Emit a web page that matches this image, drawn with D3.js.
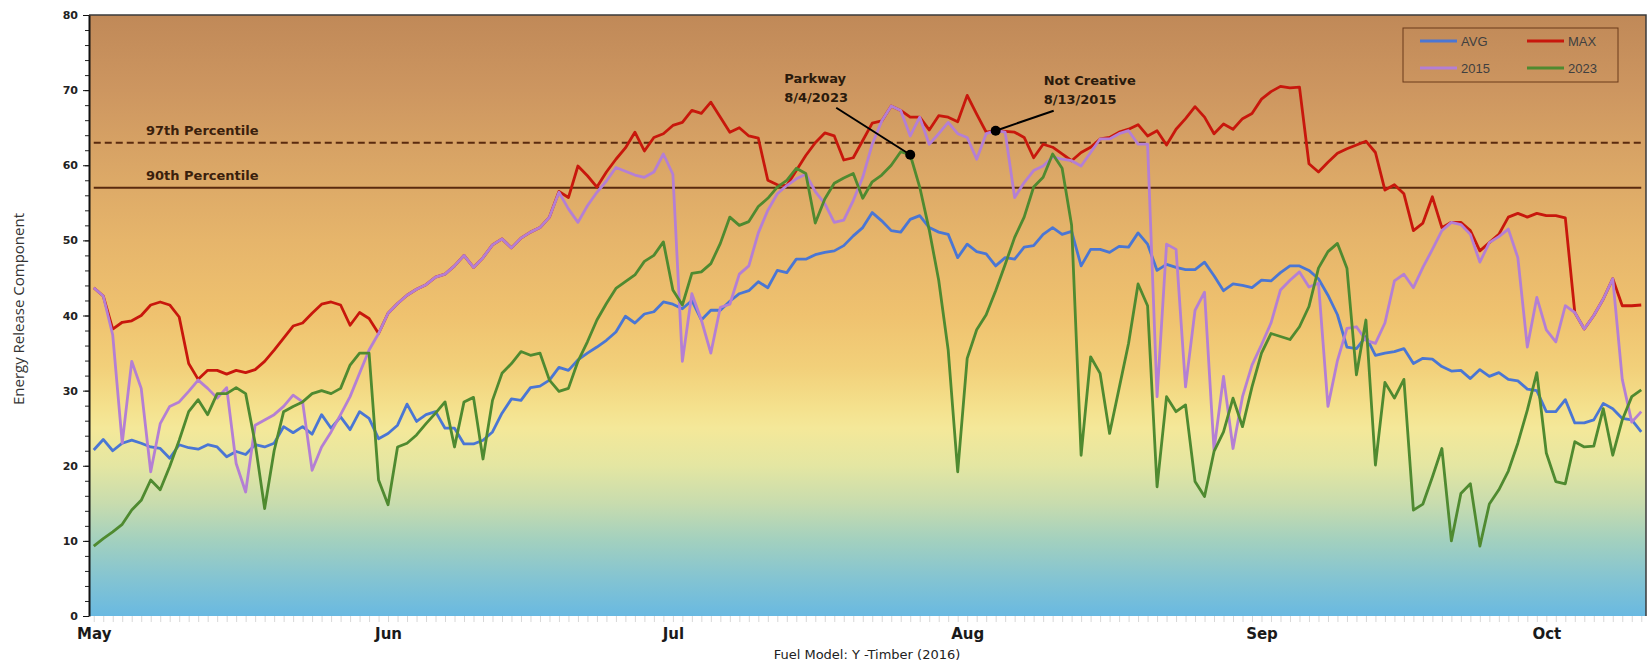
<!DOCTYPE html>
<html>
<head>
<meta charset="utf-8">
<script src="https://cdn.jsdelivr.net/npm/d3@7"></script>
<style>
body { margin: 0; background: #fff; }
</style>
</head>
<body>
<div id="chart"></div>
<script>
// daily values, May 1 .. Oct 11
var firstDay = new Date(2023, 4, 1);

var avg = [22.1, 23.5, 22.0, 23.0, 23.4, 23.0, 22.5, 22.3, 21.0, 22.8,
    22.4, 22.2, 22.8, 22.5, 21.2, 21.9, 21.5, 22.8, 22.5, 23.0,
    25.2, 24.4, 25.2, 24.2, 26.8, 25.0, 26.5, 24.8, 27.2, 26.3,
    23.6, 24.3, 25.4, 28.2, 25.9, 26.8, 27.2, 25.0, 25.0, 22.9,
    22.9, 23.4, 24.5, 27.0, 28.9, 28.7, 30.4, 30.6, 31.4, 33.1,
    32.7, 34.1, 35.0, 35.8, 36.7, 37.8, 39.9, 39.0, 40.2, 40.5,
    41.8, 41.5, 40.9, 42.0, 39.4, 40.7, 40.7, 41.9, 42.9, 43.3,
    44.5, 43.7, 46.0, 45.7, 47.5, 47.5, 48.1, 48.4, 48.6, 49.3,
    50.6, 51.7, 53.7, 52.6, 51.3, 51.1, 52.8, 53.3, 51.7, 51.1,
    50.8, 47.7, 49.5, 48.5, 48.2, 46.6, 47.7, 47.5, 49.1, 49.3,
    50.8, 51.7, 50.8, 51.2, 46.6, 48.8, 48.8, 48.4, 49.2, 49.1,
    51.0, 49.5, 46.0, 46.8, 46.4, 46.1, 46.1, 47.1, 45.3, 43.3,
    44.2, 44.0, 43.7, 44.7, 44.6, 45.7, 46.6, 46.6, 46.0, 44.9,
    42.7, 40.1, 35.8, 35.6, 37.2, 34.7, 35.0, 35.2, 35.6, 33.6,
    34.3, 34.2, 33.2, 32.6, 32.7, 31.6, 32.8, 31.9, 32.4, 31.5,
    31.3, 30.2, 30.0, 27.2, 27.2, 28.8, 25.7, 25.7, 26.1, 28.3,
    27.6, 26.3, 26.1, 24.5];

var max = [43.7, 42.6, 38.2, 39.1, 39.3, 40.0, 41.4, 41.8, 41.4, 39.8,
    33.6, 31.5, 32.7, 32.7, 32.2, 32.7, 32.4, 32.8, 33.9, 35.4,
    37.0, 38.6, 39.0, 40.3, 41.5, 41.8, 41.4, 38.7, 40.4, 39.6,
    37.6, 40.3, 41.6, 42.7, 43.5, 44.1, 45.1, 45.5, 46.6, 48.0,
    46.4, 47.7, 49.4, 50.2, 49.0, 50.3, 51.1, 51.7, 53.1, 56.5,
    55.7, 59.9, 58.6, 57.1, 59.1, 60.8, 62.3, 64.4, 61.9, 63.7,
    64.2, 65.3, 65.7, 67.3, 66.9, 68.4, 66.4, 64.4, 65.0, 63.9,
    63.6, 58.0, 57.4, 57.3, 59.3, 61.3, 63.0, 64.3, 63.9, 60.7,
    61.0, 63.3, 65.6, 65.9, 67.9, 67.3, 66.4, 66.4, 64.7, 66.6,
    66.4, 65.8, 69.3, 66.8, 64.4, 64.6, 64.5, 64.4, 63.7, 61.0,
    62.8, 62.4, 61.5, 60.6, 61.7, 62.4, 63.5, 63.7, 64.4, 64.8,
    65.4, 63.9, 64.6, 62.7, 64.8, 66.2, 67.8, 66.4, 64.2, 65.5,
    64.8, 66.2, 66.9, 68.8, 69.8, 70.5, 70.3, 70.4, 60.2, 59.1,
    60.4, 61.6, 62.2, 62.7, 63.2, 61.7, 56.7, 57.4, 56.2, 51.3,
    52.3, 55.8, 51.7, 52.4, 52.4, 51.3, 48.6, 49.7, 50.8, 53.1,
    53.6, 53.1, 53.6, 53.3, 53.3, 53.0, 40.4, 38.2, 40.0, 42.2,
    44.9, 41.3, 41.3, 41.4];

var y2015 = [43.7, 42.6, 37.4, 23.0, 33.9, 30.3, 19.2, 25.6, 27.9, 28.5,
    29.9, 31.4, 30.3, 29.0, 30.4, 20.3, 16.5, 25.4, 26.1, 26.8,
    27.9, 29.4, 28.5, 19.4, 22.5, 24.5, 26.8, 29.2, 32.3, 35.4,
    37.6, 40.3, 41.6, 42.7, 43.5, 44.1, 45.1, 45.5, 46.6, 48.0,
    46.4, 47.7, 49.4, 50.2, 49.0, 50.3, 51.1, 51.7, 53.1, 56.4,
    54.2, 52.4, 54.6, 56.4, 57.9, 59.7, 59.2, 58.7, 58.4, 59.1,
    61.5, 58.8, 33.9, 42.9, 39.4, 35.0, 41.1, 41.5, 45.5, 46.6,
    51.0, 54.0, 56.2, 57.3, 58.2, 58.8, 56.5, 54.9, 52.4, 52.7,
    55.3, 58.4, 62.8, 65.9, 67.9, 67.3, 63.9, 66.4, 62.8, 64.2,
    65.7, 64.2, 63.7, 60.8, 64.2, 64.6, 64.4, 55.7, 57.7, 59.3,
    59.9, 61.1, 60.8, 60.6, 59.9, 61.7, 63.5, 63.5, 64.2, 64.6,
    62.8, 62.8, 29.2, 49.5, 48.8, 30.5, 40.7, 43.1, 22.1, 31.9,
    22.3, 29.2, 33.4, 36.1, 39.0, 43.4, 44.7, 45.8, 43.8, 44.3,
    27.9, 34.0, 38.3, 38.5, 36.7, 36.3, 39.0, 44.6, 45.5, 43.7,
    46.4, 48.8, 51.3, 52.4, 52.1, 50.8, 47.1, 49.7, 50.5, 51.5,
    47.7, 35.8, 42.4, 38.1, 36.5, 41.3, 40.4, 38.2, 40.0, 42.2,
    44.9, 31.5, 25.8, 27.2];

var y2023 = [9.3, 10.3, 11.2, 12.2, 14.1, 15.4, 18.1, 16.8, 19.9, 23.4,
    27.2, 28.8, 26.8, 29.6, 29.6, 30.4, 29.6, 23.0, 14.3, 22.0,
    27.2, 27.9, 28.5, 29.6, 30.0, 29.6, 30.3, 33.4, 35.0, 35.0,
    18.1, 14.8, 22.5, 23.0, 24.1, 25.6, 27.0, 28.5, 22.5, 28.5,
    29.1, 20.9, 28.7, 32.3, 33.6, 35.2, 34.7, 35.0, 31.4, 29.9,
    30.3, 33.9, 36.5, 39.4, 41.6, 43.6, 44.5, 45.4, 47.2, 48.0,
    49.8, 43.4, 41.4, 45.6, 45.8, 46.9, 49.6, 53.1, 52.0, 52.5,
    54.5, 55.6, 57.1, 58.0, 59.6, 58.9, 52.3, 55.5, 57.6, 58.3,
    58.9, 55.6, 57.8, 58.7, 60.0, 61.8, 61.4, 57.1, 51.4, 44.7,
    35.4, 19.2, 34.3, 38.1, 40.1, 43.3, 46.8, 50.4, 53.1, 57.1,
    58.4, 61.5, 59.6, 52.0, 21.4, 34.5, 32.3, 24.3, 30.3, 36.3,
    44.2, 41.3, 17.2, 29.2, 27.2, 28.1, 17.9, 15.9, 21.9, 24.5,
    29.0, 25.2, 30.5, 35.0, 37.6, 37.2, 36.8, 38.5, 41.2, 46.3,
    48.5, 49.6, 46.3, 32.1, 39.4, 20.1, 31.1, 29.0, 31.5, 14.1,
    14.9, 18.5, 22.3, 10.0, 16.3, 17.6, 9.3, 14.9, 16.8, 19.3,
    23.0, 27.4, 32.4, 21.7, 17.9, 17.6, 23.2, 22.5, 22.6, 27.6,
    21.4, 26.1, 29.2, 30.1];

var seriesNames = ["AVG", "MAX", "2015", "2023"];
var seriesValues = [avg, max, y2015, y2023];
var percentileNames = ["97th Percentile", "90th Percentile"];
var percentileValues = [63, 57];
var notes = [
    {lines: ["Parkway", "8/4/2023"], series: 3, day: 86},
    {lines: ["Not Creative", "8/13/2015"], series: 2, day: 95}
];
var yTickValues = [0, 10, 20, 30, 40, 50, 60, 70, 80];

var colors = ["#4a76d4", "#c8170c", "#b47fd4", "#4f8a30"];

var width = 1650, height = 665,
    plotLeft = 89, plotRight = 1646, plotTop = 15, plotBottom = 616;

var days = avg.map(function(d, i) { return d3.timeDay.offset(firstDay, i); });

var svg = d3.select("#chart").append("svg")
    .attr("width", width).attr("height", height)
    .style("font-family", "'DejaVu Sans', sans-serif");

var x = d3.scaleTime()
    .domain([d3.timeHour.offset(days[0], -12), d3.timeHour.offset(days[days.length - 1], 12)])
    .range([plotLeft, plotRight]);

var y = d3.scaleLinear()
    .domain([0, 80])
    .range([plotBottom, plotTop]);

// background gradient
var bg = [[80, "#c08958"], [70, "#cd9660"], [60, "#daa666"], [50, "#e6b56b"],
    [40, "#efc26f"], [33, "#f2d07a"], [28, "#f4e08c"], [25, "#f4e899"],
    [20, "#e4e6a2"], [15, "#c8dcae"], [10, "#a2d0bf"], [5, "#84c4d2"], [0, "#69b9e1"]];
var grad = svg.append("defs").append("linearGradient")
    .attr("id", "bg").attr("gradientUnits", "userSpaceOnUse")
    .attr("x1", 0).attr("x2", 0).attr("y1", y(80)).attr("y2", y(0));
grad.selectAll("stop").data(bg).enter().append("stop")
    .attr("offset", function(d) { return (80 - d[0]) / 80; })
    .attr("stop-color", function(d) { return d[1]; });

svg.append("rect")
    .attr("x", plotLeft).attr("y", plotTop)
    .attr("width", plotRight - plotLeft).attr("height", plotBottom - plotTop)
    .attr("fill", "url(#bg)");

// frame top + right
svg.append("path")
    .attr("d", "M" + plotLeft + "," + plotTop + "H" + plotRight + "V" + plotBottom)
    .attr("fill", "none").attr("stroke", "#3a3a3a").attr("stroke-width", 1.5);

// percentile lines
var pct = svg.append("g");
percentileValues.forEach(function(v, i) {
    pct.append("line")
        .attr("x1", x(days[0])).attr("x2", x(days[days.length - 1]))
        .attr("y1", y(v)).attr("y2", y(v))
        .attr("stroke", "#5a2a0e").attr("stroke-width", 2)
        .attr("stroke-dasharray", i == 0 ? "7,4" : null);
    pct.append("text")
        .attr("x", 146).attr("y", y(v) - 8)
        .attr("font-size", 13).attr("font-weight", "bold")
        .attr("fill", "#3a200c")
        .text(percentileNames[i]);
});

// series
var line = d3.line()
    .x(function(d, i) { return x(days[i]); })
    .y(function(d) { return y(d); });

svg.append("g").selectAll("path")
    .data(seriesValues).enter().append("path")
    .attr("d", line)
    .attr("fill", "none")
    .attr("stroke", function(d, i) { return colors[i]; })
    .attr("stroke-width", 2.8)
    .attr("stroke-linejoin", "round");

// annotations
var note = svg.append("g");
notes.forEach(function(n, k) {
    var px = x(days[n.day]), py = y(seriesValues[n.series][n.day]);
    var tx = k == 0 ? px - 126 : px + 48,
        ty = k == 0 ? py - 72 : py - 46,
        lx = k == 0 ? px - 74 : px + 58,
        ly = k == 0 ? py - 47 : py - 20;
    note.append("line")
        .attr("x1", lx).attr("y1", ly).attr("x2", px).attr("y2", py)
        .attr("stroke", "#000").attr("stroke-width", 2);
    note.append("circle")
        .attr("cx", px).attr("cy", py).attr("r", 5).attr("fill", "#000");
    n.lines.forEach(function(t, j) {
        note.append("text")
            .attr("x", tx).attr("y", ty + j * 19)
            .attr("font-size", 13).attr("font-weight", "bold")
            .attr("fill", "#2a1a0c")
            .text(t);
    });
});

// y axis
svg.append("g")
    .attr("transform", "translate(" + plotLeft + ",0)")
    .call(d3.axisLeft(y).tickValues(d3.range(0, 81, 2)).tickSize(4).tickFormat(""))
    .call(function(g) { g.select(".domain").remove(); g.selectAll("line").attr("stroke", "#222"); });

var yAxis = svg.append("g")
    .attr("transform", "translate(" + plotLeft + ",0)")
    .call(d3.axisLeft(y).tickValues(yTickValues).tickSize(6).tickPadding(5).tickSizeOuter(0));
yAxis.select(".domain").attr("stroke", "#111").attr("stroke-width", 2);
yAxis.selectAll("line").attr("stroke", "#111");
yAxis.selectAll("text")
    .attr("font-family", "'DejaVu Sans', sans-serif")
    .attr("font-size", 11).attr("font-weight", "bold").attr("fill", "#222");

// x axis: daily ticks and month labels
svg.append("g")
    .attr("transform", "translate(0," + plotBottom + ")")
    .call(d3.axisBottom(x).ticks(d3.timeDay.every(1)).tickSize(6).tickFormat(""))
    .call(function(g) { g.select(".domain").remove(); g.selectAll("line").attr("stroke", "#d8d8d8"); });

var xAxis = svg.append("g")
    .attr("transform", "translate(0," + plotBottom + ")")
    .call(d3.axisBottom(x).ticks(d3.timeMonth.every(1)).tickSize(0).tickPadding(12).tickFormat(d3.timeFormat("%b")));
xAxis.select(".domain").remove();
xAxis.selectAll("text")
    .attr("font-family", "'DejaVu Sans', sans-serif")
    .attr("font-size", 15).attr("font-weight", "bold").attr("fill", "#1a1a1a");

// axis titles
svg.append("text")
    .attr("transform", "translate(24,309) rotate(-90)")
    .attr("text-anchor", "middle")
    .attr("font-family", "'Open Sans', sans-serif")
    .attr("font-size", 15).attr("fill", "#333")
    .text("Energy Release Component");

svg.append("text")
    .attr("x", 867).attr("y", 659)
    .attr("text-anchor", "middle")
    .attr("font-size", 13).attr("fill", "#222")
    .text("Fuel Model: Y -Timber (2016)");

// legend
var legend = svg.append("g").attr("transform", "translate(1403,28)");
legend.append("rect")
    .attr("width", 215).attr("height", 54)
    .attr("fill", "none").attr("stroke", "#6b3a1a").attr("stroke-width", 1);
seriesNames.forEach(function(name, i) {
    var lx = 17 + (i % 2) * 107, ly = 13 + Math.floor(i / 2) * 27;
    legend.append("line")
        .attr("x1", lx).attr("x2", lx + 37).attr("y1", ly).attr("y2", ly)
        .attr("stroke", colors[i]).attr("stroke-width", 2.8);
    legend.append("text")
        .attr("x", lx + 41).attr("y", ly + 5)
        .attr("font-family", "'Liberation Sans', Arial, sans-serif")
        .attr("font-size", 13).attr("fill", "#404040")
        .text(name);
});
</script>
</body>
</html>
